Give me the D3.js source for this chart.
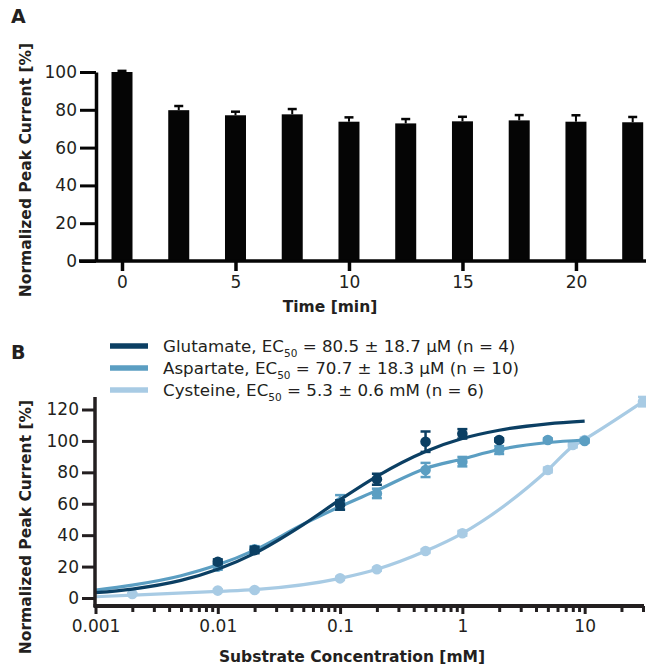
<!DOCTYPE html>
<html>
<head>
<meta charset="utf-8">
<script src="https://cdn.jsdelivr.net/npm/d3@7"></script>
<style>
  body { margin: 0; background: #fff; }
  text { font-family: "DejaVu Sans", sans-serif; fill: #231f20; }
</style>
</head>
<body>
<script>
// ---- panel A data ----
var times = [0, 2.5, 5, 7.5, 10, 12.5, 15, 17.5, 20, 22.5]
var current = [100, 79.8, 77.1, 77.6, 73.7, 72.8, 73.9, 74.4, 73.7, 73.4]
var currentErr = [0.6, 2.2, 1.9, 2.8, 2.3, 2.3, 2.4, 2.8, 3.4, 2.8]
var timeTicks = [0, 5, 10, 15, 20]
var pctTicksA = [0, 20, 40, 60, 80, 100]

// ---- panel B data ----
var names = ["Glutamate", "Aspartate", "Cysteine"]
var colors = ["#0b3f63", "#5b9ec2", "#a8cbe4"]
var legendRest = [
  " = 80.5 ± 18.7 µM (n = 4)",
  " = 70.7 ± 18.3 µM (n = 10)",
  " = 5.3 ± 0.6 mM (n = 6)"
]

var gluConc = [0.01, 0.02, 0.1, 0.2, 0.5, 1, 2]
var gluVal = [23.1, 30.5, 59.2, 75.6, 99.5, 104.5, 100.6]
var gluErr = [1.5, 2, 3, 3.5, 6.5, 3, 1]
var aspConc = [0.01, 0.02, 0.1, 0.2, 0.5, 1, 2, 5, 10]
var aspVal = [20, 31, 61, 66.6, 81.5, 86.8, 94.2, 100.6, 100]
var aspErr = [2, 2, 4.5, 3, 4.5, 3, 2.5, 1, 1]
var cysConc = [0.002, 0.01, 0.02, 0.1, 0.2, 0.5, 1, 5, 8, 10, 30]
var cysVal = [2.5, 4.7, 5.1, 12.5, 18.3, 29.9, 41.2, 81.5, 97.4, 100.6, 125]
var cysErr = [0.5, 0.8, 0.8, 1, 1, 1.2, 1.5, 1.5, 1.5, 1.5, 3]

// fitted curves
var gluFitConc = [0.001, 0.002, 0.005, 0.01, 0.02, 0.05, 0.1, 0.2, 0.5, 1, 2, 5, 10]
var gluFit = [3.4, 5.7, 11.2, 18.3, 28.4, 46.7, 62.6, 77.5, 93.3, 101.5, 106.8, 110.9, 112.6]
var aspFitConc = [0.001, 0.002, 0.005, 0.01, 0.02, 0.05, 0.1, 0.2, 0.5, 1, 2, 5, 10]
var aspFit = [5.0, 8.2, 14.2, 21.1, 30.5, 47, 58.2, 68.5, 82.5, 88.5, 94.5, 99, 100.6]
var cysFitConc = [0.001, 0.002, 0.01, 0.02, 0.1, 0.2, 0.5, 1, 5, 8, 10, 30]
var cysFit = [0.8, 1.8, 4.2, 5.3, 12.5, 18.3, 29.9, 41.2, 81.5, 96.5, 101, 125]

var concLabels = [0.001, 0.01, 0.1, 1, 10]
var pctTicksB = [0, 20, 40, 60, 80, 100, 120]

var svg = d3.select("body").append("svg")
  .attr('width', 646)
  .attr('height', 665)

// =================== panel A ===================
var xA = d3.scaleLinear().domain([0, 22.5]).range([122, 632.7])
var yA = d3.scaleLinear().domain([0, 100]).range([261, 72])
var barW = 21

svg.append("text").text("A")
  .attr('x', 11).attr('y', 23)
  .style('font-size', '19px').style('font-weight', 'bold')

var gA = svg.append("g")

gA.selectAll("rect.bar")
  .data(times)
  .enter().append("rect")
  .attr('class', 'bar')
  .attr('x', function(d) { return xA(d) - barW / 2 })
  .attr('width', barW)
  .attr('y', function(d, i) { return yA(current[i]) })
  .attr('height', function(d, i) { return yA(0) - yA(current[i]) })
  .attr('fill', '#050505')

gA.selectAll("line.err")
  .data(times)
  .enter().append("line")
  .attr('x1', function(d) { return xA(d) })
  .attr('x2', function(d) { return xA(d) })
  .attr('y1', function(d, i) { return yA(current[i]) })
  .attr('y2', function(d, i) { return yA(current[i] + currentErr[i]) })
  .attr('stroke', '#050505').attr('stroke-width', 2)

gA.selectAll("line.cap")
  .data(times)
  .enter().append("line")
  .attr('x1', function(d) { return xA(d) - 4.5 })
  .attr('x2', function(d) { return xA(d) + 4.5 })
  .attr('y1', function(d, i) { return yA(current[i] + currentErr[i]) })
  .attr('y2', function(d, i) { return yA(current[i] + currentErr[i]) })
  .attr('stroke', '#050505').attr('stroke-width', 2.5)

var yAxisA = gA.append("g")
  .attr('transform', 'translate(96,0)')
  .call(d3.axisLeft(yA).tickValues(pctTicksA).tickSize(16).tickSizeOuter(0).tickPadding(3))
yAxisA.select(".domain").attr('stroke-width', 3.5).attr('stroke', '#050505')
yAxisA.selectAll(".tick line").attr('stroke-width', 3).attr('stroke', '#050505')
yAxisA.selectAll(".tick text").style('font-size', '17px').attr('fill', '#231f20').style('font-family', 'DejaVu Sans')

var xAxisA = gA.append("g")
  .attr('transform', 'translate(0,261)')
  .call(d3.axisBottom(xA).tickValues(timeTicks).tickSize(10).tickSizeOuter(0).tickPadding(5))
xAxisA.select(".domain").remove()
xAxisA.selectAll(".tick line").attr('stroke-width', 3.5).attr('stroke', '#050505')
xAxisA.selectAll(".tick text").style('font-size', '17px').attr('fill', '#231f20').style('font-family', 'DejaVu Sans')
gA.append("line")
  .attr('x1', 79).attr('x2', 646).attr('y1', 261).attr('y2', 261)
  .attr('stroke', '#050505').attr('stroke-width', 3.5)

svg.append("text").text("Time [min]")
  .attr('x', 330).attr('y', 312)
  .attr('text-anchor', 'middle')
  .style('font-size', '15.5px').style('font-weight', 'bold')

svg.append("text").text("Normalized Peak Current [%]")
  .attr('transform', 'translate(31,170) rotate(-90)')
  .attr('text-anchor', 'middle')
  .style('font-size', '15.5px').style('font-weight', 'bold')

// =================== panel B ===================
var xB = d3.scaleLog().domain([0.001, 30]).range([95.5, 643])
var yB = d3.scaleLinear().domain([0, 120]).range([598, 409.5])

svg.append("text").text("B")
  .attr('x', 11).attr('y', 359)
  .style('font-size', '19px').style('font-weight', 'bold')

// legend
var legend = svg.append("g")
names.forEach(function(n, i) {
  var ly = 346 + i * 22
  legend.append("line")
    .attr('x1', 110).attr('x2', 148).attr('y1', ly).attr('y2', ly)
    .attr('stroke', colors[i]).attr('stroke-width', 5.5)
  var t = legend.append("text")
    .attr('x', 163).attr('y', ly + 6)
    .style('font-size', '16.7px')
  t.append("tspan").text(n + ", EC")
  t.append("tspan").text("50").style('font-size', '10.5px').attr('dy', 5)
  t.append("tspan").text(legendRest[i]).attr('dy', -5)
})

var gB = svg.append("g")

var line = d3.line()
  .x(function(d) { return xB(d[0]) })
  .y(function(d) { return yB(d[1]) })
  .curve(d3.curveMonotoneX)

var fits = [
  d3.zip(cysFitConc, cysFit),
  d3.zip(aspFitConc, aspFit),
  d3.zip(gluFitConc, gluFit)
]

var series = [
  { conc: cysConc, val: cysVal, err: cysErr, color: colors[2] },
  { conc: aspConc, val: aspVal, err: aspErr, color: colors[1] },
  { conc: gluConc, val: gluVal, err: gluErr, color: colors[0] }
]

series.forEach(function(s, k) {
  gB.append("path")
    .attr('d', line(fits[k]))
    .attr('fill', 'none')
    .attr('stroke', s.color)
    .attr('stroke-width', 3.2)

  var g = gB.append("g")
  var pts = d3.zip(s.conc, s.val, s.err)
  g.selectAll("line.ebar")
    .data(pts)
    .enter().append("line")
    .attr('x1', function(d) { return xB(d[0]) })
    .attr('x2', function(d) { return xB(d[0]) })
    .attr('y1', function(d) { return yB(d[1] - d[2]) })
    .attr('y2', function(d) { return yB(d[1] + d[2]) })
    .attr('stroke', s.color).attr('stroke-width', 2.5)
  ;[1, -1].forEach(function(sign) {
    g.selectAll("line.c" + (sign > 0 ? "t" : "b"))
      .data(pts)
      .enter().append("line")
      .attr('x1', function(d) { return xB(d[0]) - 5 })
      .attr('x2', function(d) { return xB(d[0]) + 5 })
      .attr('y1', function(d) { return yB(d[1] + sign * d[2]) })
      .attr('y2', function(d) { return yB(d[1] + sign * d[2]) })
      .attr('stroke', s.color).attr('stroke-width', 2.5)
  })
  g.selectAll("circle")
    .data(pts)
    .enter().append("circle")
    .attr('cx', function(d) { return xB(d[0]) })
    .attr('cy', function(d) { return yB(d[1]) })
    .attr('r', 5.3)
    .attr('fill', s.color)
})

// y axis B
var yAxisB = gB.append("g")
  .attr('transform', 'translate(95,0)')
  .call(d3.axisLeft(yB).tickValues(pctTicksB).tickSize(13).tickSizeOuter(0).tickPadding(3))
yAxisB.select(".domain").remove()
yAxisB.selectAll(".tick line").attr('stroke-width', 3).attr('stroke', '#231f20')
yAxisB.selectAll(".tick text").style('font-size', '17px').attr('fill', '#231f20').style('font-family', 'DejaVu Sans')
gB.append("line")
  .attr('x1', 95).attr('x2', 95).attr('y1', 397).attr('y2', 607)
  .attr('stroke', '#231f20').attr('stroke-width', 3.5)

// x axis B (log, minor ticks)
var minor = []
for (var e = -3; e <= 1; e++) {
  for (var m = 2; m <= 9; m++) {
    var v = m * Math.pow(10, e)
    if (v <= 30) minor.push(v)
  }
}
var xAxisBMinor = gB.append("g")
  .attr('transform', 'translate(0,606)')
  .call(d3.axisBottom(xB).tickValues(minor).tickSize(6).tickSizeOuter(0).tickFormat(""))
xAxisBMinor.select(".domain").remove()
xAxisBMinor.selectAll(".tick line").attr('stroke-width', 3).attr('stroke', '#231f20')

var xAxisB = gB.append("g")
  .attr('transform', 'translate(0,606)')
  .call(d3.axisBottom(xB).tickValues(concLabels).tickSize(8).tickSizeOuter(0).tickPadding(6)
    .tickFormat(function(d) { return String(d) }))
xAxisB.select(".domain").remove()
xAxisB.selectAll(".tick line").attr('stroke-width', 3).attr('stroke', '#231f20')
xAxisB.selectAll(".tick text").style('font-size', '17px').attr('fill', '#231f20').style('font-family', 'DejaVu Sans')
gB.append("line")
  .attr('x1', 93.5).attr('x2', 644).attr('y1', 606).attr('y2', 606)
  .attr('stroke', '#231f20').attr('stroke-width', 4)

svg.append("text").text("Substrate Concentration [mM]")
  .attr('x', 352).attr('y', 662)
  .attr('text-anchor', 'middle')
  .style('font-size', '15.5px').style('font-weight', 'bold')

svg.append("text").text("Normalized Peak Current [%]")
  .attr('transform', 'translate(31,527) rotate(-90)')
  .attr('text-anchor', 'middle')
  .style('font-size', '15.5px').style('font-weight', 'bold')
</script>
</body>
</html>
